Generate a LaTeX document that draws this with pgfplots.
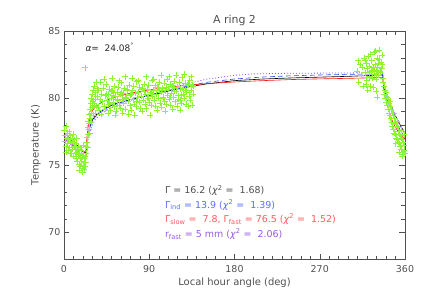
\documentclass[border=0pt]{standalone}
\usepackage{fontspec}
\setmainfont{DejaVu Sans}
\usepackage{pgfplots}
\pgfplotsset{compat=1.18}
\definecolor{ptgreen}{RGB}{140,245,50}
\definecolor{fblue}{RGB}{40,70,255}
\definecolor{fred}{RGB}{255,20,20}
\definecolor{fpurple}{RGB}{150,80,240}
\definecolor{txtgray}{RGB}{80,80,80}
\definecolor{tblue}{RGB}{90,110,255}
\definecolor{tred}{RGB}{255,90,90}
\definecolor{tpurple}{RGB}{150,90,230}
\begin{document}
\begin{tikzpicture}
\useasboundingbox (-64bp,-46bp) rectangle (363bp,259bp);
\begin{axis}[
  at={(0,0)}, anchor=south west,
  scale only axis, width=341bp, height=228bp,
  xmin=0, xmax=360, ymin=68, ymax=85,
  xtick={0,90,180,270,360}, minor x tick num=8,
  ytick={70,75,80,85}, minor y tick num=4,
  tick align=inside, major tick length=5.5bp, minor tick length=3.5bp,
  axis line style={draw=txtgray},
  tick style={draw=txtgray, line width=0.4pt},
  ticklabel style={font=\fontsize{9.5}{11}\selectfont, text=txtgray},
  xticklabel style={yshift=-3bp},
  /pgf/number format/assume math mode=true,
  xlabel={Local hour angle (deg)}, ylabel={Temperature (K)},
  x label style={at={(axis description cs:0.5,0)}, anchor=center, yshift=-24bp, font=\fontsize{10}{12}\selectfont, text=txtgray},
  y label style={at={(axis description cs:0,0.5)}, anchor=center, yshift=28bp, font=\fontsize{10}{12}\selectfont, text=txtgray},
  title={A ring 2},
  title style={at={(axis description cs:0.5,1)}, anchor=center, yshift=5bp, font=\fontsize{11}{13}\selectfont, text=txtgray},
  clip=true,
]
% observed temperatures
\addplot[only marks, mark=+, mark size=3bp, draw=ptgreen, line width=0.4pt] coordinates {
(0.4,77.6)(0.9,76.8)(1.4,77.2)(1.9,76.4)(2.4,77.9)(2.9,77.0)(3.4,76.6)(3.9,77.4)(4.4,76.1)(4.9,76.9)
(5.4,77.5)(5.9,76.3)(6.4,76.8)(6.9,77.2)(7.4,75.9)(7.9,76.6)(8.4,77.0)(8.9,76.2)(9.4,76.7)(9.9,75.7)
(10.4,76.4)(10.9,76.9)(11.4,75.9)(11.9,76.3)(12.4,75.5)(12.9,76.6)(13.4,76.0)(13.9,75.3)(14.4,76.2)(14.9,75.7)
(15.4,76.4)(15.9,75.1)(16.4,75.8)(16.9,74.9)(17.4,75.5)(17.9,76.1)(18.4,75.3)(18.9,74.8)(19.4,75.6)(19.9,75.0)
(20.4,75.9)(20.9,75.2)(21.4,75.5)(21.9,74.9)(22.4,75.7)(22.9,75.2)(2.2,76.0)(6.2,75.9)(9.2,77.3)(13.2,77.0)
(17.2,76.3)(20.2,76.5)(23.3,75.9)(22,82.27)(16.2,74.6)(19.6,74.5)(21.2,74.7)
(23.6,76.4)(24.1,77.1)(24.5,76.7)(24.9,77.8)(25.3,77.3)(25.7,78.3)(26.1,77.7)(26.5,78.8)(26.9,78.1)(27.3,79.2)
(27.7,78.5)(28.1,79.6)(28.5,78.9)(28.9,80.0)(29.3,79.3)(29.7,80.3)(30.1,79.6)(30.6,80.6)(31.1,79.8)(31.6,80.9)
(32.1,79.5)(32.6,80.4)(33.1,79.9)(33.6,81.2)(34.1,79.4)(34.6,80.7)(25.0,76.3)(27.0,77.4)(29.0,78.2)(31.0,78.7)(33.0,78.9)
(35.0,80.15)(35.8,79.32)(36.6,80.57)(37.4,79.07)(38.2,79.88)(39.0,78.83)(39.8,80.30)(40.6,79.73)(41.4,80.73)(42.2,79.41)
(43.0,80.19)(43.8,79.20)(44.6,81.07)(45.4,79.87)(46.2,80.31)(47.0,79.55)(47.8,80.65)(48.6,79.11)(49.4,80.00)(50.2,80.50)
(51.0,80.56)(51.8,79.68)(52.6,80.89)(53.4,79.36)(54.2,80.13)(55.0,79.04)(55.8,80.47)(56.6,79.81)(57.4,80.81)(58.2,79.49)
(59.0,80.27)(59.8,79.28)(60.6,81.15)(61.4,79.95)(62.2,80.39)(63.0,79.63)(63.8,80.73)(64.6,79.19)(65.4,80.08)(66.2,80.58)
(67.0,80.64)(67.8,79.76)(68.6,80.97)(69.4,79.44)(70.2,80.21)(71.0,79.12)(71.8,80.55)(72.6,79.89)(73.4,80.89)(74.2,79.57)
(75.0,80.35)(75.8,79.36)(76.6,81.23)(77.4,80.03)(78.2,80.47)(79.0,79.71)(79.8,80.81)(80.6,79.27)(81.4,80.16)(82.2,80.67)
(83.0,80.72)(83.8,79.85)(84.6,81.07)(85.4,79.53)(86.2,80.31)(87.0,79.21)(87.8,80.65)(88.6,79.99)(89.4,80.99)(90.2,79.68)
(91.0,80.45)(91.8,79.47)(92.6,81.34)(93.4,80.14)(94.2,80.59)(95.0,79.82)(95.8,80.93)(96.6,79.39)(97.4,80.28)(98.2,80.79)
(99.0,80.84)(99.8,79.97)(100.6,81.18)(101.4,79.65)(102.2,80.42)(103.0,79.33)(103.8,80.76)(104.6,80.10)(105.4,81.10)(106.2,79.78)
(107.0,80.56)(107.8,79.57)(108.6,81.44)(109.4,80.24)(110.2,80.68)(111.0,79.92)(111.8,81.02)(112.6,79.48)(113.4,80.37)(114.2,80.87)
(115.0,80.93)(115.8,80.05)(116.6,81.26)(117.4,79.73)(118.2,80.50)(119.0,79.41)(119.8,80.84)(120.6,80.18)(121.4,81.18)(122.2,79.86)
(123.0,80.64)(123.8,79.65)(124.6,81.53)(125.4,80.32)(126.2,80.77)(127.0,80.00)(127.8,81.11)(128.6,79.57)(129.4,80.46)(130.2,80.96)
(131.0,81.02)(131.8,80.14)(132.6,81.36)(133.4,79.82)(134.2,80.60)(135.0,79.50)(135.8,80.94)(136.6,80.28)
(38.6,81.2)(42.6,81.4)(46.6,78.9)(50.6,81.5)(53.8,78.7)(57.8,81.3)(61.8,78.9)(64.2,81.6)(68.2,78.8)(72.2,81.5)
(74.6,78.7)(78.6,81.3)(82.6,79.0)(86.6,81.6)(90.6,78.75)(94.6,81.4)(98.6,79.1)(102.6,81.7)(106.6,79.0)(110.6,81.6)
(114.6,79.2)(118.6,81.7)(122.6,79.1)(126.6,81.8)(130.6,79.4)(134.6,81.6)(136.2,80.9)(100.2,80.6)(104.2,80.0)(108.2,80.8)
(112.2,80.1)(116.2,80.5)(120.2,79.9)(124.2,80.2)(128.2,80.6)(132.2,80.4)(44.2,80.3)(48.2,79.6)(52.2,80.2)(56.2,79.9)
(60.2,80.4)(64.6,80.0)(70.6,80.3)(76.2,79.8)(84.2,80.5)(88.2,80.0)(92.2,80.4)
(309.5,82.0)(310.2,82.8)(311,81.2)(312.5,82.5)(313.5,81.7)(315,82.3)(316,80.9)(316.8,83.0)(317.5,82.8)
(318,81.9)(318.8,82.6)(319.5,81.3)(320.2,82.2)(321,83.1)(321.7,81.6)(322.5,82.4)(323.2,80.9)(324,82.0)(324.7,82.8)
(325.5,81.5)(326.2,82.3)(327,83.4)(327.7,81.8)(328.5,82.5)(329.2,80.5)(330,82.1)(330.7,83.0)(331.5,81.7)(332.2,82.6)
(333,83.6)(333.7,81.9)(334.5,82.7)(335.2,82.2)(336,83.2)(336.6,81.5)(319,81.0)(322,81.9)(325,82.1)(328,82.0)
(331,82.3)(334,82.0)(320.5,80.6)(326.5,80.8)(329.8,81.4)(332.8,82.9)(335.6,82.5)(323.6,83.3)(328.9,83.5)(330.5,80.1)
(337.3,81.2)(337.8,80.3)(338.3,80.9)(338.8,80.0)(339.3,80.6)(339.8,79.7)(340.3,80.4)(340.8,79.5)(341.3,80.1)(341.8,79.2)
(342.3,79.9)(342.8,78.9)(343.3,79.6)(343.8,78.7)(344.3,79.4)(344.8,78.5)(345.3,79.2)(345.8,78.2)(346.3,78.9)(346.8,77.9)
(347.3,78.7)(347.8,77.7)(348.3,78.5)(348.8,77.4)(349.3,78.2)(349.8,77.3)(350.3,78.1)(350.8,77.0)(351.3,77.9)(351.8,76.9)
(352.3,77.8)(352.8,76.7)(353.3,77.5)(353.8,76.6)(354.3,77.3)(354.8,76.4)(355.3,77.2)(355.8,76.2)(356.3,77.0)(356.8,76.0)
(357.3,76.9)(357.8,75.8)(358.3,76.7)(358.8,76.1)(359.3,76.5)(359.8,75.9)(344,79.8)(348,78.9)(352,78.3)(356,77.6)
(359,77.3)(350,76.6)(354,76.0)(357,75.7)
};
% model: single Gamma (black)
\addplot[black, line width=0.6pt] coordinates {
(0,77.4)(23,75.88)(24,76.6)(25,77.05)(26.5,77.6)(28,78.0)(30,78.35)(33,78.7)(38,78.95)(45,79.3)(55,79.6)
(70,79.88)(85,80.12)(100,80.35)(115,80.6)(133,80.85)(150,81.05)(180,81.3)(210,81.42)(240,81.5)(270,81.56)
(300,81.62)(336.5,81.72)(337.5,80.85)(339,80.5)(342,80.0)(345,79.45)(348,78.95)(352,78.4)(356,77.85)(360,77.4)
};
% model: Gamma_ind (blue dashed)
\addplot[fblue, line width=0.6pt, dash pattern=on 5bp off 3bp] coordinates {
(0,77.05)(23,75.44)(24,76.4)(25,77.0)(26.5,77.5)(28,77.9)(30,78.25)(33,78.6)(38,78.9)(45,79.25)(55,79.55)
(70,79.88)(85,80.15)(100,80.4)(115,80.65)(133,80.93)(150,81.17)(180,81.42)(210,81.57)(240,81.66)(270,81.72)
(300,81.77)(336.5,81.8)(337.5,80.8)(339.5,80.3)(343,79.55)(347,78.8)(351,78.15)(355,77.6)(360,77.05)
};
% model: two components (red)
\addplot[fred, line width=0.6pt] coordinates {
(0,76.9)(23,75.85)(24,76.9)(25,77.6)(26.5,78.2)(28,78.7)(30,79.05)(33,79.35)(38,79.6)(45,79.85)(55,80.1)
(70,80.36)(85,80.55)(100,80.72)(115,80.85)(133,80.97)(150,81.07)(180,81.2)(210,81.3)(240,81.38)(270,81.43)
(300,81.47)(336.5,81.53)(337.5,80.7)(339.5,80.1)(342.5,79.15)(346,78.4)(350,77.8)(355,77.3)(360,76.9)
};
% model: r_fast (purple dotted)
\addplot[fpurple, line width=0.8pt, dash pattern=on 1bp off 2bp] coordinates {
(0,77.2)(23,75.6)(24,76.2)(25,76.75)(26.5,77.25)(28,77.65)(30,78.0)(33,78.4)(38,78.75)(45,79.1)(55,79.45)
(70,79.82)(85,80.13)(100,80.45)(115,80.78)(133,81.12)(150,81.4)(180,81.7)(200,81.8)(240,81.85)(270,81.86)
(300,81.87)(336.5,81.92)(337.5,80.95)(339.5,80.45)(344,79.7)(348,79.0)(352,78.35)(356,77.75)(360,77.2)
};
\node[anchor=west, text=black!85, font=\fontsize{9}{11}\selectfont] at (axis cs:19,83.81) {\textit{α}=\ \ 24.08\textsuperscript{°}};
\node[anchor=west, text=txtgray, font=\fontsize{9.5}{11}\selectfont] at (axis cs:103,73.1) {Γ = 16.2 (\textit{χ}\textsuperscript{2} = \ 1.68)};
\node[anchor=west, text=tblue, font=\fontsize{9.5}{11}\selectfont] at (axis cs:103,72.05) {Γ\textsubscript{ind} = 13.9 (\textit{χ}\textsuperscript{2} = \ 1.39)};
\node[anchor=west, text=tred, font=\fontsize{9.5}{11}\selectfont] at (axis cs:103,70.95) {Γ\textsubscript{slow} = \ 7.8, Γ\textsubscript{fast} = 76.5 (\textit{χ}\textsuperscript{2} = \ 1.52)};
\node[anchor=west, text=tpurple, font=\fontsize{9.5}{11}\selectfont] at (axis cs:103,69.85) {r\textsubscript{fast} = 5 mm (\textit{χ}\textsuperscript{2} = \ 2.06)};
\end{axis}
\end{tikzpicture}
\end{document}
